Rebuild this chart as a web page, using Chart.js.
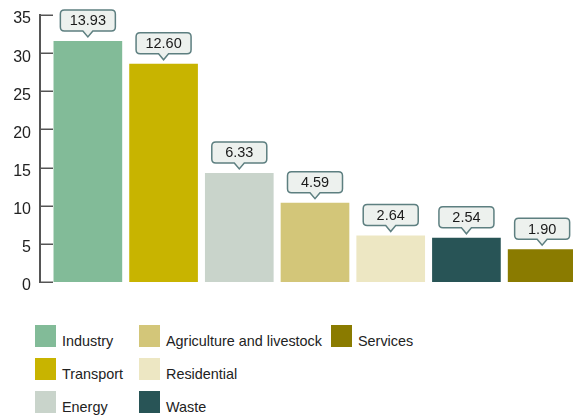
<!DOCTYPE html>
<html>
<head>
<meta charset="utf-8">
<script src="https://cdn.jsdelivr.net/npm/chart.js@4/dist/chart.umd.min.js"></script>
<style>
  html, body { margin: 0; padding: 0; background: #fff; overflow: hidden; }
  #wrap { position: relative; width: 573px; height: 415px; overflow: hidden; }
  #box { position: absolute; left: 0; top: 0; width: 580px; height: 300px; }
  #legend {
    position: absolute; left: 35px; top: 325px;
    display: grid; grid-auto-flow: column;
    grid-template-columns: 104px 192px auto;
    grid-template-rows: repeat(3, 33px);
    font: 14.4px "Liberation Sans", Arial, sans-serif; color: #222;
  }
  .item { display: flex; align-items: flex-end; height: 22px; }
  .sw { width: 21px; height: 22px; margin-right: 6px; flex: none; }
  .item span { line-height: 14px; margin-bottom: -1px; white-space: nowrap; }
</style>
</head>
<body>
<div id="wrap">
  <div id="box"><canvas id="c"></canvas></div>
  <div id="legend"></div>
</div>
<script>
// categories and values
const categories = ['Industry', 'Transport', 'Energy', 'Agriculture and livestock', 'Residential', 'Waste', 'Services'];
const shares = [31.6, 28.6, 14.3, 10.4, 6.1, 5.8, 4.3];       // bar heights (axis units)
const valueLabels = ['13.93', '12.60', '6.33', '4.59', '2.64', '2.54', '1.90']; // callout texts
const colors = ['#82bb98', '#c8b400', '#c9d4cb', '#d3c679', '#ede7c3', '#285456', '#8a7b00'];
const yMax = 35;
const yStep = 5;

const FONT = '"Liberation Sans", Arial, sans-serif';

// left axis line with ticks pointing into the plot
const axisPlugin = {
  id: 'axisLine',
  afterDraw(chart) {
    const ctx = chart.ctx;
    const y = chart.scales.y;
    const x0 = chart.chartArea.left - 10;
    ctx.save();
    ctx.strokeStyle = '#555';
    ctx.lineWidth = 2;
    ctx.beginPath();
    ctx.moveTo(x0, y.getPixelForValue(yMax) - 1);
    ctx.lineTo(x0, y.getPixelForValue(0) + 1);
    ctx.stroke();
    ctx.lineWidth = 1.5;
    y.ticks.forEach((t) => {
      const py = Math.round(y.getPixelForValue(t.value)) + 0.25;
      ctx.beginPath();
      ctx.moveTo(x0, py);
      ctx.lineTo(x0 + 13, py);
      ctx.stroke();
    });
    ctx.restore();
  }
};

// speech-bubble labels above each bar
const calloutPlugin = {
  id: 'callouts',
  afterDatasetsDraw(chart) {
    const ctx = chart.ctx;
    const meta = chart.getDatasetMeta(0);
    const bw = 55, bh = 21, r = 4, pw = 5, ph = 6;
    ctx.save();
    ctx.font = '14.5px ' + FONT;
    ctx.textAlign = 'center';
    ctx.textBaseline = 'middle';
    meta.data.forEach((bar, i) => {
      const cx = bar.x;
      const tip = bar.y - 4;
      const bottom = tip - ph;
      const top = bottom - bh;
      const l = cx - bw / 2, rr = cx + bw / 2;
      ctx.beginPath();
      ctx.moveTo(l + r, top);
      ctx.lineTo(rr - r, top);
      ctx.quadraticCurveTo(rr, top, rr, top + r);
      ctx.lineTo(rr, bottom - r);
      ctx.quadraticCurveTo(rr, bottom, rr - r, bottom);
      ctx.lineTo(cx + pw, bottom);
      ctx.lineTo(cx, tip);
      ctx.lineTo(cx - pw, bottom);
      ctx.lineTo(l + r, bottom);
      ctx.quadraticCurveTo(l, bottom, l, bottom - r);
      ctx.lineTo(l, top + r);
      ctx.quadraticCurveTo(l, top, l + r, top);
      ctx.closePath();
      ctx.fillStyle = '#edf1ee';
      ctx.fill();
      ctx.strokeStyle = '#5d7f80';
      ctx.lineWidth = 1.5;
      ctx.stroke();
      ctx.fillStyle = '#1a1a1a';
      ctx.fillText(valueLabels[i], cx, top + bh / 2 + 1);
    });
    ctx.restore();
  }
};

new Chart(document.getElementById('c'), {
  type: 'bar',
  data: {
    labels: categories,
    datasets: [{
      data: shares,
      backgroundColor: colors,
      borderWidth: 0,
      categoryPercentage: 1,
      barPercentage: 0.907,
    }],
  },
  options: {
    responsive: true,
    maintainAspectRatio: false,
    animation: false,
    layout: { padding: { top: 15, bottom: 18, left: 0, right: 0 } },
    plugins: { legend: { display: false }, tooltip: { enabled: false } },
    scales: {
      x: { display: false },
      y: {
        min: 0,
        max: yMax,
        afterFit(scale) {
          scale.width = 50;
          scale.paddingTop = 0;
          scale.paddingBottom = 0;
        },
        grid: { display: false },
        border: { display: false },
        ticks: {
          stepSize: yStep,
          padding: 11,
          labelOffset: 4,
          color: '#222',
          font: { family: FONT, size: 16 },
        },
      },
    },
  },
  plugins: [axisPlugin, calloutPlugin],
});

// legend laid out column by column
const legend = document.getElementById('legend');
categories.forEach((name, i) => {
  const item = document.createElement('div');
  item.className = 'item';
  const sw = document.createElement('div');
  sw.className = 'sw';
  sw.style.background = colors[i];
  const txt = document.createElement('span');
  txt.textContent = name;
  item.appendChild(sw);
  item.appendChild(txt);
  legend.appendChild(item);
});
</script>
</body>
</html>
